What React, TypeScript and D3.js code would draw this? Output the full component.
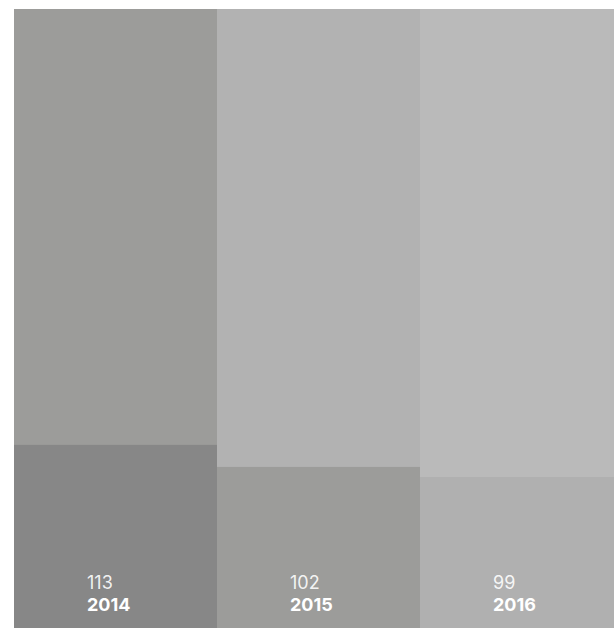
import React from "react";
import * as d3 from "d3";

const years = ["2014", "2015", "2016"];
const values = [113, 102, 99];
const totals = [382, 392, 406];
const topColors = ["#9c9c9a", "#b2b2b2", "#bababa"];
const bottomColors = ["#878787", "#9c9c9a", "#b0b0b0"];

const W = 614;
const H = 628;
const left = 14;
const top = 9;
const colWidth = 203;

export default function App() {
  const x = d3
    .scaleBand<string>()
    .domain(years)
    .range([left, left + colWidth * years.length])
    .padding(0);
  const bottom = H;
  return (
    <svg
      width={W}
      height={H}
      style={{ position: "absolute", left: 0, top: 0, display: "block" }}
      fontFamily="Inter, 'Noto Sans', sans-serif"
    >
      {years.map((yr, i) => {
        const y = d3.scaleLinear().domain([0, totals[i]]).range([bottom, top]);
        const x0 = x(yr) as number;
        const bw = x.bandwidth();
        const tx = x0 + 73;
        return (
          <g key={yr}>
            <rect x={x0} y={y(totals[i])} width={bw} height={y(0) - y(totals[i])} fill={topColors[i]} />
            <rect x={x0} y={y(values[i])} width={bw} height={y(0) - y(values[i])} fill={bottomColors[i]} />
            <text x={tx} y={589} fill="#ffffff" fillOpacity={0.9} fontSize={18} fontWeight={400}>
              {values[i]}
            </text>
            <text x={tx} y={610.5} fill="#ffffff" fontSize={18} fontWeight={700}>
              {yr}
            </text>
          </g>
        );
      })}
    </svg>
  );
}
